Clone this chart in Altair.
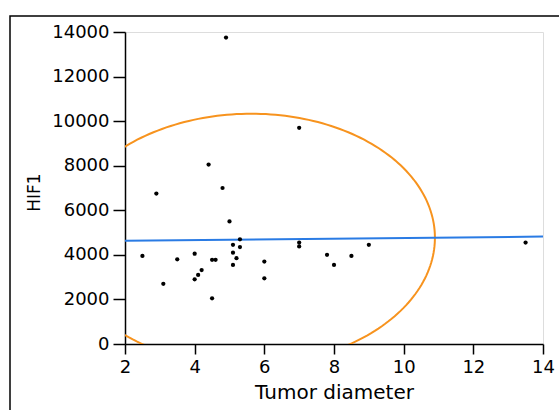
import altair as alt
import numpy as np
import pandas as pd

# Data
tumor_diameter = [4.9, 7.0, 4.4, 4.8, 2.9, 5.0, 5.3, 5.1, 5.3, 5.1, 5.2, 5.1, 2.5, 3.5, 4.0,
                  4.5, 4.6, 4.2, 4.1, 4.0, 3.1, 4.5, 6.0, 6.0, 7.0, 7.0, 7.8, 8.0, 8.5, 9.0, 13.5]
hif1 = [13750, 9700, 8050, 7000, 6750, 5500, 4700, 4450, 4350, 4100, 3850, 3550, 3950, 3800, 4050,
        3780, 3780, 3320, 3100, 2900, 2700, 2050, 3700, 2950, 4550, 4380, 4000, 3550, 3950, 4450, 4550]
x_ticks = [2, 4, 6, 8, 10, 12, 14]
y_ticks = [0, 2000, 4000, 6000, 8000, 10000, 12000, 14000]

points = pd.DataFrame({"Tumor diameter": tumor_diameter, "HIF1": hif1})

# 95% bivariate normal density ellipse derived from the points
xy = np.column_stack([tumor_diameter, hif1]).astype(float)
mu = xy.mean(axis=0)
cov = np.cov(xy, rowvar=False)
vals, vecs = np.linalg.eigh(cov)
r = np.sqrt(-2.0 * np.log(0.05))
t = np.linspace(0, 2 * np.pi, 241)
circ = np.vstack([np.cos(t), np.sin(t)])
ell = (vecs @ (np.sqrt(vals)[:, None] * circ)) * r + mu[:, None]
ellipse = pd.DataFrame({"Tumor diameter": ell[0], "HIF1": ell[1], "i": np.arange(len(t))})

FONT = "DejaVu Sans"

xscale = alt.Scale(domain=[2, 14], nice=False, zero=False)
yscale = alt.Scale(domain=[0, 14000], nice=False)

xaxis = alt.Axis(values=x_ticks, grid=False, tickSize=10, labelPadding=4, labelFontSize=18,
                 titleFontSize=20, titleFontWeight="normal", titleBaseline="alphabetic",
                 titleY=54, labelFlush=False, domainColor="black", tickColor="black",
                 domainWidth=1.5, tickWidth=1.5, labelColor="black", titleColor="black",
                 format="d")
yaxis = alt.Axis(values=y_ticks, grid=False, tickSize=12, labelPadding=4, labelFontSize=18,
                 titleFontSize=17, titleFontWeight="normal", titleAngle=-90,
                 titleAlign="center", titleBaseline="middle", titleX=-91, titleY=160,
                 labelFlush=False, domainColor="black", tickColor="black",
                 domainWidth=1.5, tickWidth=1.5, labelColor="black", titleColor="black",
                 format="d")

base = alt.Chart(points)

pts = base.mark_circle(color="black", opacity=1, size=18).encode(
    x=alt.X("Tumor diameter:Q", scale=xscale, axis=xaxis),
    y=alt.Y("HIF1:Q", scale=yscale, axis=yaxis),
)

fit = base.transform_regression("Tumor diameter", "HIF1", method="linear", extent=[2, 14]).mark_line(
    color="#2A7BE4", strokeWidth=2, clip=True
).encode(
    x=alt.X("Tumor diameter:Q", scale=xscale),
    y=alt.Y("HIF1:Q", scale=yscale),
)

ell_line = alt.Chart(ellipse).mark_line(color="#F7931E", strokeWidth=2, clip=True).encode(
    x=alt.X("Tumor diameter:Q", scale=xscale),
    y=alt.Y("HIF1:Q", scale=yscale),
    order="i:Q",
)

frame = alt.Chart(pd.DataFrame({"a": [0]})).mark_rect(
    fill=None, stroke="black", strokeWidth=1.5
).encode(
    x=alt.value(-115), x2=alt.value(445), y=alt.value(-16), y2=alt.value(400)
)

chart = alt.layer(ell_line, fit, pts, frame).properties(
    width=418, height=312,
    autosize=alt.AutoSizeParams(type="none"),
    padding={"left": 125, "top": 32, "right": 16, "bottom": 66},
).configure_view(stroke="black", strokeWidth=1.5).configure(
    font=FONT, background="white"
)

chart.save("out.html", embed_options={"renderer": "svg", "actions": False})
